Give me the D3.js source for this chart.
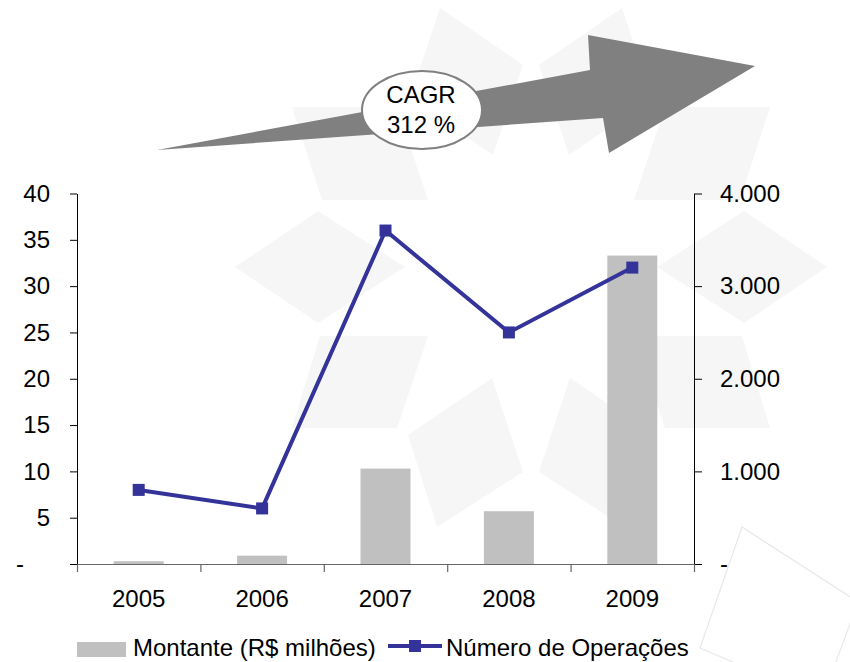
<!DOCTYPE html>
<html>
<head>
<meta charset="utf-8">
<script src="https://cdn.jsdelivr.net/npm/d3@7"></script>
<style>
  html, body { margin: 0; padding: 0; background: #ffffff; }
  svg { display: block; font-family: "Liberation Sans", Arial, sans-serif; }
</style>
</head>
<body>
<svg id="chart" width="850" height="662"></svg>
<script>
// ---------------- data ----------------
const years = ["2005", "2006", "2007", "2008", "2009"];
const montante = [0.3, 0.9, 10.3, 5.7, 33.3];          // R$ milhões (left axis)
const operacoes = [800, 600, 3600, 2500, 3200];        // Número de Operações (right axis)
const leftTicks = [0, 5, 10, 15, 20, 25, 30, 35, 40];
const rightTicks = [0, 1000, 2000, 3000, 4000];
const seriesNames = ["Montante (R$ milhões)", "Número de Operações"];
const cagrLabel = ["CAGR", "312 %"];

// ---------------- setup ----------------
const svg = d3.select("#chart");
const FONT = 24;
const x0 = 77, x1 = 694, yTop = 193.5, yBot = 564;

// background watermark (decorative)
const wm = svg.append("g").attr("fill", "#f6f6f6");
const wmShapes = [
  [[292,107],[397,107],[428,200],[322,200]],
  [[665,107],[770,107],[740,200],[634,200]],
  [[320,336],[428,336],[397,428],[292,428]],
  [[634,336],[742,336],[770,428],[665,428]],
  [[235,267],[318,211],[405,267],[318,323]],
  [[657,267],[744,211],[827,267],[744,323]],
  [[440,8],[523,65],[493,155],[410,98]],
  [[622,8],[539,65],[569,155],[652,98]],
  [[492,378],[523,472],[437,527],[408,435]],
  [[570,378],[654,435],[625,527],[539,472]]
];
wm.selectAll("polygon").data(wmShapes).join("polygon")
  .attr("points", d => d.map(p => p.join(",")).join(" "));
svg.append("polygon")
  .attr("points", "742,527 858,602 822,700 700,648")
  .attr("fill", "#ffffff").attr("stroke", "#e8e8e8").attr("stroke-width", 1.2);

// CAGR arrow (decorative)
svg.append("polygon")
  .attr("points", "157,150 590,70 588,35 755,66 609,153 603,118")
  .attr("fill", "#808080");
svg.append("ellipse")
  .attr("cx", 422).attr("cy", 110).attr("rx", 60).attr("ry", 39)
  .attr("fill", "#ffffff").attr("stroke", "#808080").attr("stroke-width", 2);
svg.append("text").attr("x", 421).attr("y", 103).attr("text-anchor", "middle")
  .attr("font-size", FONT).text(cagrLabel[0]);
svg.append("text").attr("x", 421).attr("y", 133).attr("text-anchor", "middle")
  .attr("font-size", FONT).text(cagrLabel[1]);

// ---------------- scales ----------------
const xBand = d3.scaleBand().domain(years).range([x0, x1])
  .paddingInner(0.595).paddingOuter(0.2975);
const xEdge = d3.scaleLinear().domain([0, years.length]).range([x0, x1]);
const yL = d3.scaleLinear().domain([0, 40]).range([yBot, yTop]);
const yR = d3.scaleLinear().domain([0, 4000]).range([yBot, yTop]);
const ptBR = d3.formatLocale({ decimal: ",", thousands: ".", grouping: [3], currency: ["R$", ""] });
const fmtR = ptBR.format(",.0f");

// ---------------- bars ----------------
svg.append("g").selectAll("rect").data(years).join("rect")
  .attr("x", d => xBand(d))
  .attr("width", xBand.bandwidth())
  .attr("y", (d, i) => yL(montante[i]))
  .attr("height", (d, i) => yL(0) - yL(montante[i]))
  .attr("fill", "#c0c0c0");

// ---------------- axes ----------------
const gL = svg.append("g").attr("transform", `translate(${x0},0)`)
  .call(d3.axisLeft(yL).tickValues(leftTicks).tickSize(7).tickSizeOuter(0).tickPadding(20)
    .tickFormat(d => d === 0 ? "-" : d));
gL.selectAll("text").filter(d => d === 0).attr("dx", -26);

const gR = svg.append("g").attr("transform", `translate(${x1},0)`)
  .call(d3.axisRight(yR).tickValues(rightTicks).tickSize(8).tickSizeOuter(0).tickPadding(18)
    .tickFormat(d => d === 0 ? "-" : fmtR(d)));

const gE = svg.append("g").attr("transform", `translate(0,${yBot})`)
  .call(d3.axisBottom(xEdge).tickValues(d3.range(years.length + 1)).tickSize(8)
    .tickSizeOuter(0).tickFormat(""));
gE.selectAll("path, line").attr("stroke", "#666666").attr("stroke-width", 1.2);

const gX = svg.append("g").attr("transform", `translate(0,${yBot})`)
  .call(d3.axisBottom(xBand).tickSize(0).tickPadding(26));
gX.select(".domain").remove();

[gL, gR, gX].forEach(g => {
  g.selectAll("text").attr("font-size", FONT).attr("font-family", "Liberation Sans, Arial, sans-serif").attr("fill", "#000");
});
[gL, gR].forEach(g => g.selectAll("path, line").attr("stroke", "#000"));

// ---------------- line series ----------------
const cx = d => xBand(d) + xBand.bandwidth() / 2;
const lineGen = d3.line().x((d, i) => cx(years[i])).y(d => yR(d));
svg.append("path").datum(operacoes)
  .attr("d", lineGen).attr("fill", "none")
  .attr("stroke", "#333399").attr("stroke-width", 4).attr("stroke-linejoin", "miter");
const MS = 12;
svg.append("g").selectAll("rect").data(operacoes).join("rect")
  .attr("x", (d, i) => cx(years[i]) - MS / 2)
  .attr("y", d => yR(d) - MS / 2)
  .attr("width", MS).attr("height", MS).attr("fill", "#333399");

// ---------------- legend ----------------
const lg = svg.append("g").attr("font-size", FONT);
lg.append("rect").attr("x", 77).attr("y", 642).attr("width", 49).attr("height", 15).attr("fill", "#c0c0c0");
lg.append("text").attr("x", 133).attr("y", 656).text(seriesNames[0]);
lg.append("line").attr("x1", 388).attr("x2", 442).attr("y1", 646).attr("y2", 646)
  .attr("stroke", "#333399").attr("stroke-width", 4);
lg.append("rect").attr("x", 415 - MS / 2).attr("y", 646 - MS / 2).attr("width", MS).attr("height", MS).attr("fill", "#333399");
lg.append("text").attr("x", 446).attr("y", 656).text(seriesNames[1]);
</script>
</body>
</html>
